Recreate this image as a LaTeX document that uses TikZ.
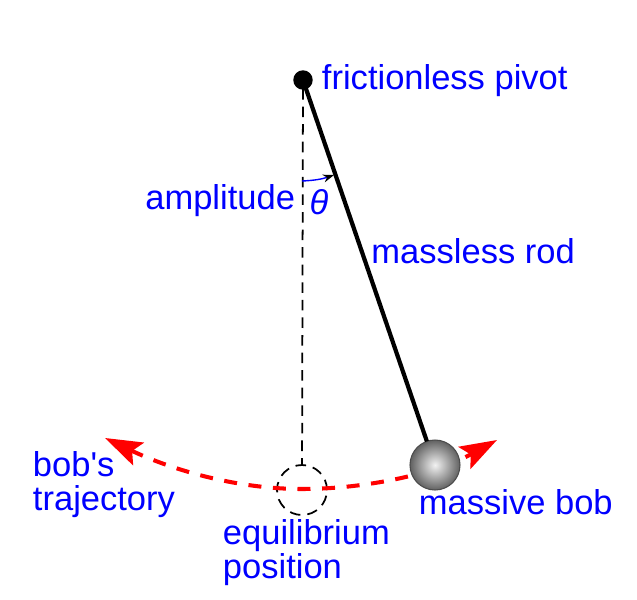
\documentclass[tikz,border=0pt]{standalone}
\usepackage{fontspec}
\setmainfont[Ligatures=TeXOff]{Liberation Sans}
\usetikzlibrary{arrows.meta}
\definecolor{labelblue}{RGB}{0,0,255}
\tikzset{
	lbl/.style={text=labelblue,inner sep=0,outer sep=0,font=\fontsize{9.82}{9.7}\selectfont,align=left},
	path red/.style={draw=red,line width=1.15pt,dash pattern=on 3.7pt off 3.3pt},
	tip red/.tip={Stealth[length=0.37cm,width=0.25cm,inset=0.07cm]},
}
\begin{document}
\begin{tikzpicture}
	\useasboundingbox (0,0) rectangle (6.37,5.99);
	\coordinate (trajleft) at (1.05,1.61);
	\coordinate (trajmid) at (3.02,1.10);
	\coordinate (trajright) at (4.97,1.59);
	\coordinate (angstart) at (3.02,4.18);
	\coordinate (angend) at (3.34,4.24);
	\node[draw,circle,fill=black,inner sep=0,outer sep=0,minimum size=0.18cm] (pivot) at (3.03,5.19) {};
	\node[draw,circle,densely dashed,line width=0.5pt,inner sep=0,outer sep=0,minimum size=0.5cm] (equil) at (3.02,1.09) {};
	\draw[densely dashed,line width=0.5pt] (pivot) -- (equil);
	\draw[path red,{tip red}-{tip red}] (trajleft) .. controls (1.7,1.3) and (2.35,1.10) .. (trajmid) .. controls (3.65,1.10) and (4.35,1.25) .. (trajright);
	\node[draw=black!70,circle,line width=0.3pt,inner sep=0,outer sep=0,minimum size=0.5cm,shading=radial,inner color=white!90!gray,outer color=black!62] (bob) at (4.35,1.34) {};
	\draw[line width=1.2pt] (pivot) -- (bob);
	\draw[draw=labelblue,line width=0.4pt,-{Stealth[length=0.11cm,width=0.08cm,black]}] (angstart) to[bend right=8] (angend);
	\node[lbl,anchor=base west] (pivotlbl) at (3.22,5.10) {frictionless pivot};
	\node[lbl,anchor=base east] (amplbl) at (2.95,3.90) {amplitude};
	\node[lbl] (thetalbl) at (3.19,3.97) {\textit{θ}};
	\node[lbl,anchor=base west] (rodlbl) at (3.715,3.36) {massless rod};
	\node[lbl,anchor=base west] (boblbl) at (4.19,0.85) {massive bob};
	\node[lbl,anchor=north west] (trajlbl) at (0.33,1.475) {bob's\\trajectory};
	\node[lbl,anchor=north west] (equillbl) at (2.23,0.80) {equilibrium\\position};
\end{tikzpicture}
\end{document}
